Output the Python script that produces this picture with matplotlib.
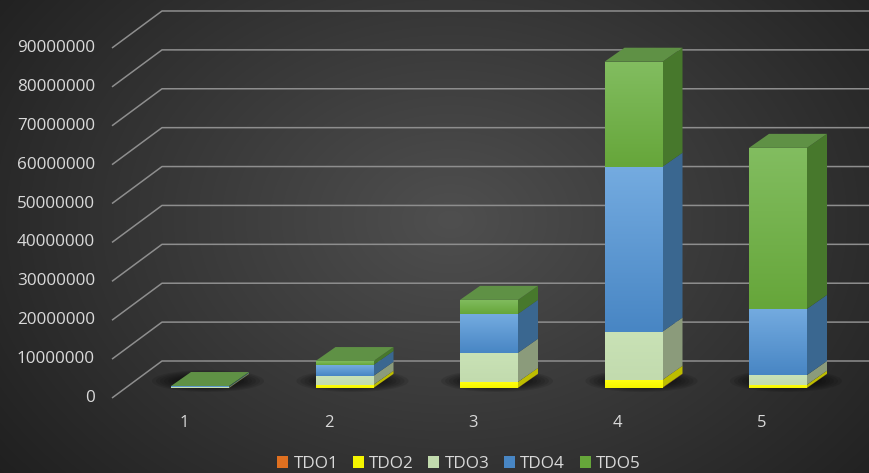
import numpy as np
import matplotlib
matplotlib.use("Agg")
import matplotlib.pyplot as plt
from matplotlib.patches import Patch, Ellipse, Polygon

plt.rcParams['font.family'] = ['Open Sans', 'DejaVu Sans']

# data
categories = [1, 2, 3, 4, 5]
series_names = ['TDO1', 'TDO2', 'TDO3', 'TDO4', 'TDO5']
tdo1 = [10000, 30000, 60000, 100000, 50000]
tdo2 = [50000, 800000, 1500000, 2000000, 800000]
tdo3 = [200000, 2300000, 7500000, 12400000, 2500000]
tdo4 = [150000, 2800000, 10000000, 42400000, 17000000]
tdo5 = [100000, 1000000, 3600000, 27000000, 41400000]
y_ticks = list(range(0, 90000001, 10000000))

# colours: front top, front bottom, side, top face
front_top = ['#f08a44', '#ffff10', '#c9e2b6', '#74abe0', '#82bd60']
front_bot = ['#e07020', '#f5f500', '#c2dbae', '#4886c4', '#66a63a']
side_col = ['#b05a20', '#bdbd00', '#8b9b7b', '#3a6790', '#47782c']
top_col = ['#f4a060', '#ffff60', '#d8e8c8', '#5e90c8', '#5f9145']
text_col = '#d9d9d9'
grid_col = '#8e8e8e'

W, H = 870, 473
fig = plt.figure(figsize=(W / 100, H / 100), dpi=100)
ax = fig.add_axes([0, 0, 1, 1])
ax.set_axis_off()

# pixel <-> data scale
XPP = 1 / 144.5           # category units per pixel
YPP = 1e6 / 3.889         # value units per pixel
x_left = 1 - 200 * XPP
xlim = (x_left, x_left + W * XPP)
ylim = (-75 * YPP, (H - 75) * YPP)
ax.set_xlim(*xlim)
ax.set_ylim(*ylim)


def xpx(p):
    return x_left + p * XPP


# background radial gradient
gx, gy = np.meshgrid(np.arange(W), np.arange(H))
r = np.sqrt(((gx - 450) / 520.0) ** 2 + ((gy - 220) / 380.0) ** 2)
shade = np.clip(0.31 - 0.17 * r, 0.12, 1)
bg = np.dstack([shade, shade, shade])
ax.imshow(bg, extent=(xlim[0], xlim[1], ylim[0], ylim[1]), aspect='auto',
          zorder=0, origin='upper')

# gridlines with the wall perspective
wall_dx = 50 * XPP
wall_dy = 37 * YPP
gx0 = xpx(112)
for v in y_ticks:
    ax.plot([gx0, gx0 + wall_dx, xlim[1]], [v, v + wall_dy, v + wall_dy],
            color=grid_col, lw=1.1, zorder=1, solid_capstyle='butt')
    ax.text(xpx(95), v, str(v), ha='right', va='center', fontsize=12.3,
            color=text_col, zorder=5)

# bars
series = [tdo1, tdo2, tdo3, tdo4, tdo5]
bar_w = 58 * XPP
dep_x = 20 * XPP
dep_y = 14 * YPP
base = 10 * YPP
grad = np.linspace(0, 1, 64).reshape(-1, 1)

for i, c in enumerate(categories):
    xl = c - bar_w / 2
    xr = c + bar_w / 2
    # soft shadow under the bar
    for k in range(8):
        ax.add_patch(Ellipse((c + dep_x / 2 - 2 * XPP, base + dep_y / 2),
                             (112 - 8 * k) * XPP, (22 - 2 * k) * YPP,
                             color='black', alpha=0.1, lw=0, zorder=2))
    bottom = base
    for s, vals in enumerate(series):
        h = vals[i]
        top = bottom + h
        # front face with vertical gradient
        rect = ax.bar(c, h, bar_w, bottom=bottom, color=front_bot[s], lw=0,
                      zorder=3)[0]
        c1 = np.array(matplotlib.colors.to_rgb(front_top[s]))
        c2 = np.array(matplotlib.colors.to_rgb(front_bot[s]))
        img = c1[None, None, :] * (1 - grad[:, :, None]) + c2[None, None, :] * grad[:, :, None]
        im = ax.imshow(img, extent=(xl, xr, bottom, top), aspect='auto',
                       zorder=3.1, origin='upper')
        im.set_clip_path(rect)
        # side face
        ax.add_patch(Polygon([(xr, bottom), (xr, top), (xr + dep_x, top + dep_y),
                              (xr + dep_x, bottom + dep_y)], closed=True,
                             color=side_col[s], lw=0, zorder=3))
        bottom = top
    # top face of the last segment
    ax.add_patch(Polygon([(xl, bottom), (xr, bottom), (xr + dep_x, bottom + dep_y),
                          (xl + dep_x, bottom + dep_y)], closed=True,
                         color=top_col[-1], lw=0, zorder=3.2))
    # category label
    ax.text(c - 16 * XPP, -25 * YPP, str(c), ha='center', va='center',
            fontsize=12, color=text_col, zorder=5)

handles = [Patch(facecolor=front_bot[s], edgecolor='none') for s in range(5)]
fig.legend(handles, series_names, loc='center', bbox_to_anchor=(459 / W, 1 - 464 / H),
           ncol=5, frameon=False, fontsize=12.3, labelcolor=text_col,
           handlelength=0.65, handleheight=0.65, handletextpad=0.3,
           columnspacing=0.85)

fig.savefig('out.png', dpi=100)
